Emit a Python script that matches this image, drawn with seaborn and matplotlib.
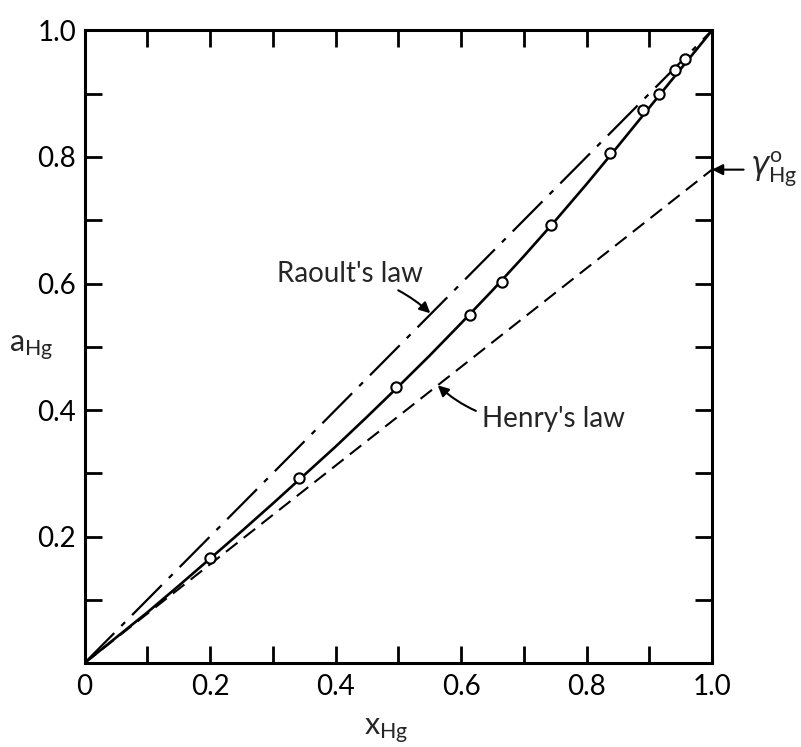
import numpy as np
import pandas as pd
import matplotlib
matplotlib.use("Agg")
import matplotlib.pyplot as plt
import seaborn as sns

# Measured activities of mercury (open circles)
x_meas = [0.20, 0.342, 0.496, 0.614, 0.665, 0.743, 0.838, 0.890, 0.916, 0.941, 0.957]
a_meas = [0.166, 0.292, 0.436, 0.550, 0.603, 0.692, 0.806, 0.874, 0.900, 0.937, 0.955]

# Smooth activity curve drawn through the measurements
x_curve = [0.0, 0.05, 0.10, 0.15, 0.20, 0.25, 0.30, 0.35, 0.40, 0.45, 0.50, 0.55,
           0.60, 0.65, 0.70, 0.75, 0.80, 0.85, 0.90, 0.95, 1.0]
a_curve = [0.0, 0.040, 0.080, 0.122, 0.165, 0.208, 0.252, 0.297, 0.342, 0.389,
           0.437, 0.486, 0.537, 0.589, 0.643, 0.699, 0.757, 0.817, 0.878, 0.939, 1.0]

# Ideal limits
x_raoult = [0.0, 1.0]
a_raoult = [0.0, 1.0]
gamma0_hg = 0.78
x_henry = [0.0, 1.0]
a_henry = [0.0, gamma0_hg]

tick_vals = [0.0, 0.1, 0.2, 0.3, 0.4, 0.5, 0.6, 0.7, 0.8, 0.9, 1.0]
x_tick_labels = ["0", "", "0.2", "", "0.4", "", "0.6", "", "0.8", "", "1.0"]
y_tick_labels = ["", "", "0.2", "", "0.4", "", "0.6", "", "0.8", "", "1.0"]

sns.set_theme(style="ticks")
plt.rcParams["font.family"] = ["Lato", "DejaVu Sans"]
plt.rcParams["mathtext.fontset"] = "custom"
plt.rcParams["mathtext.rm"] = "Lato"
plt.rcParams["mathtext.it"] = "DejaVu Sans:italic"

fig = plt.figure(figsize=(8.01, 7.47), dpi=100)
ax = fig.add_axes([0.1055, 0.1124, 0.7834, 0.8468])

lw_axis = 2.2
ink = "black"

curve_df = pd.DataFrame({"x": x_curve, "a": a_curve})
meas_df = pd.DataFrame({"x": x_meas, "a": a_meas})
raoult_df = pd.DataFrame({"x": x_raoult, "a": a_raoult})
henry_df = pd.DataFrame({"x": x_henry, "a": a_henry})

sns.lineplot(data=raoult_df, x="x", y="a", ax=ax, color=ink, lw=1.6,
             linestyle=(0, (19, 4.5, 2.4, 4.5)), sort=False)
sns.lineplot(data=henry_df, x="x", y="a", ax=ax, color=ink, lw=1.5,
             linestyle=(0, (7, 3.8)), sort=False)
sns.lineplot(data=curve_df, x="x", y="a", ax=ax, color=ink, lw=1.9, sort=False)
sns.scatterplot(data=meas_df, x="x", y="a", ax=ax, marker="o", s=55,
                facecolor="white", edgecolor=ink, linewidth=1.5, zorder=5)

ax.set_xlim(0, 1)
ax.set_ylim(0, 1)
ax.set_xticks(tick_vals)
ax.set_yticks(tick_vals)
ax.set_xticklabels(x_tick_labels)
ax.set_yticklabels(y_tick_labels)
ax.tick_params(direction="in", length=12, width=2.0, colors=ink,
               labelsize=20, top=True, right=True)
ax.tick_params(axis="x", pad=8)
ax.tick_params(axis="y", pad=6)
for sp in ax.spines.values():
    sp.set_linewidth(lw_axis)
    sp.set_color(ink)

ax.set_xlabel(r"$\mathregular{x_{Hg}}$", fontsize=22)
ax.xaxis.set_label_coords(0.48, -0.085)
ax.set_ylabel(r"$\mathregular{a_{Hg}}$", fontsize=22, rotation=0)
ax.yaxis.set_label_coords(-0.085, 0.475)

# Labels for the limiting laws
ax.annotate("Raoult's law", xy=(0.551, 0.553), xytext=(0.539, 0.615),
            fontsize=20, ha="right", va="center",
            arrowprops=dict(arrowstyle="-|>", color=ink, lw=1.5,
                            shrinkA=0, shrinkB=0, mutation_scale=16,
                            connectionstyle="arc3,rad=-0.15"))
ax.annotate("Henry's law", xy=(0.563, 0.439), xytext=(0.633, 0.386),
            fontsize=20, ha="left", va="center",
            arrowprops=dict(arrowstyle="-|>", color=ink, lw=1.5,
                            shrinkA=2, shrinkB=0, mutation_scale=16,
                            connectionstyle="arc3,rad=-0.25"))
ax.annotate(r"$\gamma^{\mathrm{o}}_{\mathrm{Hg}}$", xy=(1.0, gamma0_hg),
            xytext=(1.06, gamma0_hg),
            fontsize=22, ha="left", va="center", annotation_clip=False,
            arrowprops=dict(arrowstyle="-|>", color=ink, lw=1.5,
                            shrinkA=2, shrinkB=0, mutation_scale=16))

fig.savefig("out.png", dpi=100, facecolor="white")
